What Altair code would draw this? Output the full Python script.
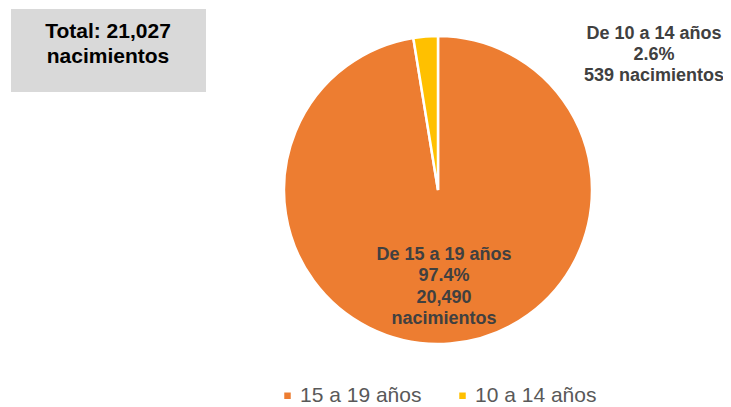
import altair as alt
import pandas as pd

# data
grupos = ["15 a 19 años", "10 a 14 años"]
nacimientos = [20490, 539]
colores = ["#ED7D31", "#FFC000"]
total_lineas = ["Total: 21,027", "nacimientos"]
etiqueta_10_14 = ["De 10 a 14 años", "2.6%", "539 nacimientos"]
etiqueta_15_19 = ["De 15 a 19 años", "97.4%", "20,490", "nacimientos"]

df = pd.DataFrame({"grupo": grupos, "n": nacimientos, "orden": [0, 1]})

W, H = 715, 399
cx, cy, r = 430, 182, 154

pie = alt.Chart(df).mark_arc(stroke="white", strokeWidth=2.5, radius=r).encode(
    theta=alt.Theta("n:Q", stack=True),
    order=alt.Order("orden:Q"),
    color=alt.Color(
        "grupo:N",
        scale=alt.Scale(domain=grupos, range=colores),
        sort=grupos,
        legend=alt.Legend(
            title=None,
            orient="none",
            legendX=269,
            legendY=377,
            direction="horizontal",
            symbolType="square",
            symbolSize=42,
            symbolStrokeWidth=0,
            labelFontSize=21,
            labelFont="Liberation Sans",
            labelColor="#595959",
            columnPadding=30,
            labelOffset=2,
        ),
    ),
    x=alt.value(cx),
    y=alt.value(cy),
)

box = alt.Chart(pd.DataFrame({"a": [0]})).mark_rect(color="#D9D9D9").encode(
    x=alt.value(3), x2=alt.value(198), y=alt.value(1), y2=alt.value(84)
)

def text_block(lines, x, y0, dy, size, color):
    d = pd.DataFrame({"t": lines, "i": list(range(len(lines)))})
    return alt.Chart(d).mark_text(
        font="Liberation Sans", fontWeight="bold", fontSize=size, color=color,
        align="center", baseline="alphabetic",
    ).encode(
        text="t:N",
        x=alt.value(x),
        y=alt.Y("i:Q", scale=alt.Scale(domain=[0, len(lines) - 1],
                                       range=[y0, y0 + dy * (len(lines) - 1)]), axis=None),
    )

total_txt = text_block(total_lineas, 100, 30, 25, 21, "#000000")
lab_small = text_block(etiqueta_10_14, 646, 31, 20.8, 18, "#404040")
lab_big = text_block(etiqueta_15_19, 436, 252, 21.3, 18, "#404040")

chart = alt.layer(box, pie, total_txt, lab_small, lab_big).resolve_scale(y="independent").properties(
    width=W, height=H, autosize=alt.AutoSizeParams(type="none"), padding=0
).configure_view(stroke=None)

chart.save("out.html", embed_options={"renderer": "svg", "actions": False})
